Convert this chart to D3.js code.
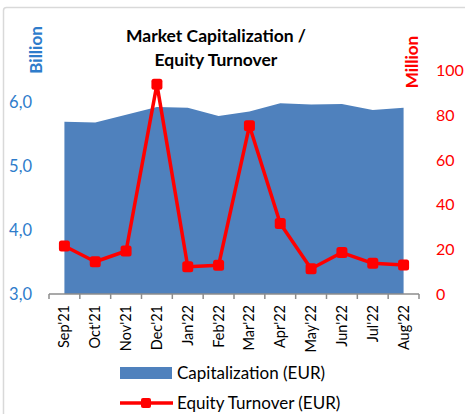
<!DOCTYPE html>
<html>
<head>
<meta charset="utf-8">
<script src="https://cdn.jsdelivr.net/npm/d3@7"></script>
<style>
  body { margin: 0; background: #fff; }
  text { font-family: Lato, "Open Sans", sans-serif; }
</style>
</head>
<body>
<svg id="vis" width="465" height="414"></svg>
<script>
const months = ["Sep'21", "Oct'21", "Nov'21", "Dec'21", "Jan'22", "Feb'22",
                "Mar'22", "Apr'22", "May'22", "Jun'22", "Jul'22", "Aug'22"];
// market capitalization, billion EUR
const capitalization = [5.69, 5.68, 5.80, 5.92, 5.91, 5.78, 5.85, 5.98, 5.96, 5.97, 5.875, 5.91];
// equity turnover, million EUR
const turnover = [21.4, 14.4, 19.2, 93.6, 12.2, 12.8, 75.1, 31.5, 11.3, 18.5, 13.7, 12.9];
const leftTicks = [3, 4, 5, 6];
const rightTicks = [0, 20, 40, 60, 80, 100];

const blue = "#4F81BD";
const red = "#FF0000";
const axisBlue = "#2E7CCB";

const svg = d3.select("svg#vis");

// chart border
svg.append("rect")
  .attr("x", 3.5).attr("y", 7.5)
  .attr("width", 480).attr("height", 420)
  .attr("rx", 3)
  .attr("fill", "none")
  .attr("stroke", "#d9d9d9")
  .attr("stroke-width", 1.5);

const plot = {left: 49, right: 419, top: 70, bottom: 294};

const x = d3.scaleBand()
  .domain(months)
  .range([plot.left, plot.right]);

const yLeft = d3.scaleLinear().domain([3, 6.5]).range([plot.bottom, plot.top]);
const yRight = d3.scaleLinear().domain([0, 100]).range([plot.bottom, plot.top]);

const cx = d => x(d) + x.bandwidth() / 2;

// area
const area = d3.area()
  .x((d, i) => cx(months[i]))
  .y0(yLeft(3))
  .y1(d => yLeft(d));

svg.append("path")
  .datum(capitalization)
  .attr("d", area)
  .attr("fill", blue);

// x axis
const xAxis = svg.append("g")
  .attr("transform", "translate(0," + plot.bottom + ")");
xAxis.append("line")
  .attr("x1", plot.left).attr("x2", plot.right)
  .attr("stroke", "#8c8c8c").attr("stroke-width", 1.5);
xAxis.selectAll("line.tick")
  .data(months.concat(["end"]))
  .enter()
  .append("line")
  .attr("class", "tick")
  .attr("x1", (d, i) => i < months.length ? x(d) : plot.right)
  .attr("x2", (d, i) => i < months.length ? x(d) : plot.right)
  .attr("y1", 0).attr("y2", 5)
  .attr("stroke", "#8c8c8c").attr("stroke-width", 1.5);
xAxis.selectAll("text")
  .data(months)
  .enter()
  .append("text")
  .attr("transform", d => "translate(" + (cx(d) + 5) + ",11) rotate(-90)")
  .attr("text-anchor", "end")
  .attr("font-size", 14.5)
  .attr("fill", "#000")
  .text(d => d);

// left axis labels
svg.append("g").selectAll("text")
  .data(leftTicks)
  .enter()
  .append("text")
  .attr("x", 32)
  .attr("y", d => yLeft(d) + 6)
  .attr("text-anchor", "end")
  .attr("font-size", 16.5)
  .attr("fill", axisBlue)
  .text(d => d3.format(".1f")(d).replace(".", ","));

// right axis labels
svg.append("g").selectAll("text")
  .data(rightTicks)
  .enter()
  .append("text")
  .attr("x", 436)
  .attr("y", d => yRight(d) + 6)
  .attr("font-size", 16)
  .attr("fill", red)
  .text(d => d);

// turnover line
const line = d3.line()
  .x((d, i) => cx(months[i]))
  .y(d => yRight(d));

svg.append("path")
  .datum(turnover)
  .attr("d", line)
  .attr("fill", "none")
  .attr("stroke", red)
  .attr("stroke-width", 3.5)
  .attr("stroke-linejoin", "round");

svg.append("g").selectAll("rect")
  .data(turnover)
  .enter()
  .append("rect")
  .attr("x", (d, i) => cx(months[i]) - 5.5)
  .attr("y", d => yRight(d) - 5.5)
  .attr("width", 11).attr("height", 11)
  .attr("rx", 2.5)
  .attr("fill", red);

// titles
const title = svg.append("text")
  .attr("text-anchor", "middle")
  .attr("font-size", 17.5)
  .attr("font-weight", "bold")
  .attr("fill", "#000");
title.append("tspan").attr("x", 216).attr("y", 42).text("Market Capitalization /");
title.append("tspan").attr("x", 216).attr("y", 66).text("Equity Turnover");

svg.append("text")
  .attr("transform", "translate(42,50) rotate(-90)")
  .attr("text-anchor", "middle")
  .attr("font-size", 17)
  .attr("font-weight", "bold")
  .attr("fill", axisBlue)
  .text("Billion");

svg.append("text")
  .attr("transform", "translate(418,62) rotate(-90)")
  .attr("text-anchor", "middle")
  .attr("font-size", 17)
  .attr("font-weight", "bold")
  .attr("fill", red)
  .text("Million");

// legend
const legend = svg.append("g");
legend.append("rect")
  .attr("x", 120).attr("y", 367)
  .attr("width", 52).attr("height", 12)
  .attr("fill", blue);
legend.append("text")
  .attr("x", 177).attr("y", 379)
  .attr("font-size", 17)
  .attr("fill", "#000")
  .text("Capitalization (EUR)");
legend.append("line")
  .attr("x1", 120).attr("x2", 173)
  .attr("y1", 403).attr("y2", 403)
  .attr("stroke", red).attr("stroke-width", 3.5);
legend.append("rect")
  .attr("x", 141).attr("y", 398)
  .attr("width", 10).attr("height", 10)
  .attr("rx", 2)
  .attr("fill", red);
legend.append("text")
  .attr("x", 177).attr("y", 409)
  .attr("font-size", 17)
  .attr("fill", "#000")
  .text("Equity Turnover (EUR)");
</script>
</body>
</html>
